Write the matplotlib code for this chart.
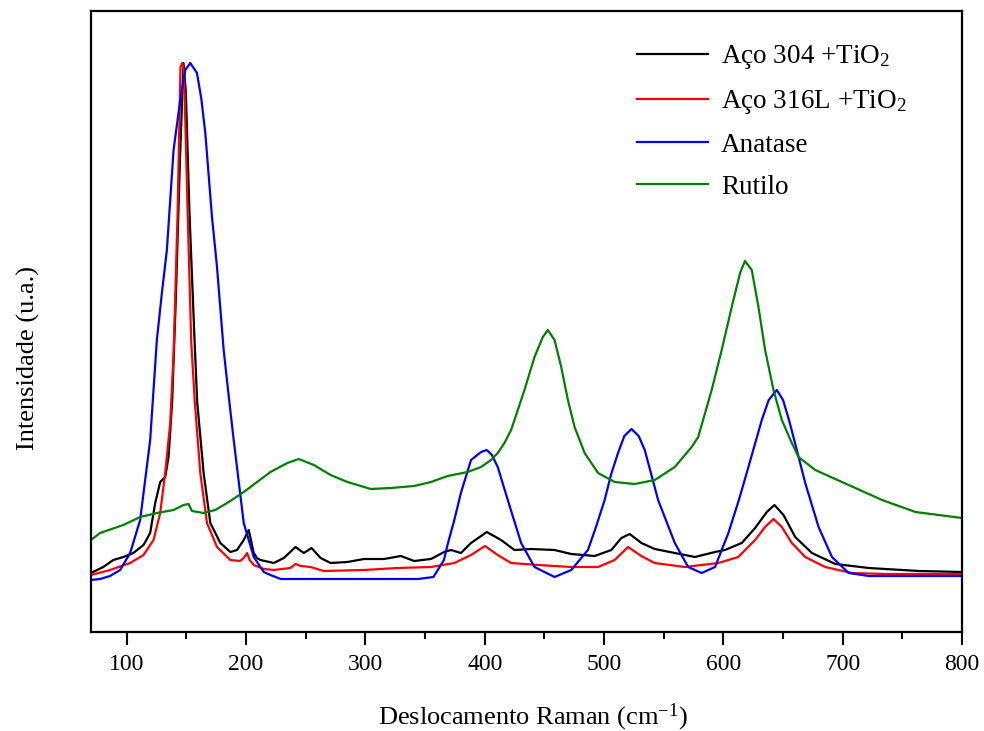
import matplotlib
matplotlib.use("Agg")
import matplotlib.pyplot as plt

plt.rcParams['font.family'] = ['Liberation Serif', 'DejaVu Serif']
plt.rcParams['mathtext.fontset'] = 'custom'
plt.rcParams['mathtext.rm'] = 'Liberation Serif'
plt.rcParams['mathtext.it'] = 'Liberation Serif:italic'

# ---- data (Raman shift cm-1, intensity a.u.) ----
aco304_x = [70, 80.3, 88.7, 97.1, 105.5, 114, 119.6, 123.8, 128, 132.2, 135, 138, 141, 144.5, 147.5,
            149.5, 152.5, 156.5, 159, 164.4, 170, 178.4, 186.8, 192.4, 198, 202.2, 206.4, 209.2, 212,
            223.2, 231.6, 241.4, 248.4, 254.9, 262.4, 270.8, 284.9, 298.8, 315.6, 329.7, 340.8, 354.9,
            366, 371.7, 380, 388.5, 401.7, 413.7, 424.9, 438.9, 458.5, 472.5, 492.1, 506.1, 514.5,
            521.5, 531.3, 542.5, 559.3, 576.1, 593, 601.3, 615.4, 626.6, 636.4, 642.8, 650.4, 660.2,
            674.2, 693.8, 721.8, 763.8, 800]
aco304_y = [59, 65, 72, 75, 79, 87, 99, 129, 150, 155, 175, 230, 330, 470, 569,
            540, 420, 300, 230, 159, 109, 89, 80, 82, 92, 102, 79, 74, 72,
            69, 74, 85, 79, 84, 74, 69, 70, 73, 73, 76, 71, 73,
            80, 82, 79, 89, 100, 92, 82, 83, 82, 78, 76, 82, 94,
            98, 89, 83, 79, 75, 80, 82, 89, 104, 120, 127, 117, 95,
            79, 68, 64, 61, 60]

aco316_x = [70, 86, 102.8, 114, 122.4, 128, 132.2, 136.4, 139.2, 142.5, 145, 146.5, 148, 151, 154, 157,
            161.6, 167.2, 175.6, 186.8, 195, 198, 200.8, 203, 206.4, 214.8, 223.2, 237, 241.4, 246,
            254, 265.2, 298.8, 326.9, 354.9, 374.5, 388.5, 400.3, 410.9, 422.1, 444.5, 472.5, 495,
            508.9, 520.1, 531.3, 542.5, 567.7, 595.8, 612.5, 626.6, 635, 642, 649, 657.4, 668.6,
            685.4, 707.8, 735.8, 800]
aco316_y = [57, 62, 69, 77, 92, 119, 159, 209, 278, 415, 565, 569, 560, 420, 290, 230,
            159, 109, 85, 72, 71, 74, 79, 72, 67, 63, 62, 64, 68, 66,
            65, 61, 62, 64, 65, 69, 77, 86, 77, 69, 67, 65, 65,
            72, 85, 76, 69, 65, 69, 75, 92, 105, 113, 105, 89, 75,
            65, 59, 58, 58]

anatase_x = [70, 77.6, 86, 94.4, 102.8, 111.2, 119.6, 125.2, 129.5, 133.6, 139.2, 144.8, 149, 153.2,
             158.8, 162.5, 165.8, 171.4, 175.6, 181.2, 185.5, 189.6, 198, 206.4, 214.8, 220.4, 229,
             344, 357, 365.8, 369, 374.5, 380, 388.5, 396.9, 401.7, 406, 410.9, 419.3, 430.5, 441.7,
             458.5, 472.5, 486.5, 493.5, 500.5, 506, 511.7, 517, 523, 529, 534.1, 539.5, 545.3,
             559.3, 570.5, 581.8, 593, 604.2, 613, 621, 632.2, 638, 644.8, 650, 655, 662, 668.6,
             679.8, 691, 705, 722, 800]
anatase_y = [52, 53, 56, 62, 79, 112, 192, 292, 340, 382, 482, 532, 562, 569,
             559, 533, 499, 415, 365, 282, 235, 192, 109, 75, 60, 57, 53,
             53, 55, 72, 88, 112, 139, 172, 180, 182, 177, 165, 132, 89, 65,
             55, 62, 82, 106, 132, 158, 179, 196, 203, 196, 182, 158, 132,
             89, 65, 59, 65, 99, 132, 165, 212, 232, 242, 232, 212, 180, 149,
             105, 75, 59, 56, 56]

rutilo_x = [70, 77.6, 97.1, 111.2, 125.2, 139.2, 147.6, 151.8, 154.6, 164.4, 174.2, 186.8, 198,
            209.2, 220.4, 234.5, 244.2, 256.8, 270.8, 284.9, 304.5, 321.3, 340.8, 354.9, 368.9,
            385.7, 396.9, 405.3, 410.9, 416.5, 422.1, 424.9, 430.5, 433.3, 441.7, 448.7, 452.9,
            458.5, 464.1, 469.7, 475.3, 483.7, 495, 508.9, 525.7, 542.5, 559.3, 573.4, 578.9,
            590.2, 598.6, 607, 614, 618.1, 623.8, 629.4, 635, 642, 649, 657, 663, 677, 705, 733,
            761, 800]
rutilo_y = [92, 99, 107, 115, 119, 122, 127, 128, 121, 119, 122, 131, 140,
            150, 160, 169, 173, 167, 157, 150, 143, 144, 146, 150, 156,
            160, 165, 172, 179, 189, 202, 212, 232, 242, 275, 295, 302,
            292, 265, 232, 205, 179, 159, 150, 148, 152, 165, 185, 195,
            242, 282, 325, 359, 371, 362, 325, 282, 242, 212, 190, 175, 162, 147, 132,
            120, 114]

labels = ['Aço 304 +TiO$_\\mathrm{2}$', 'Aço 316L +TiO$_\\mathrm{2}$', 'Anatase', 'Rutilo']
colors = ['black', '#ff0000', '#0000ff', '#008000']

xticks = [100, 200, 300, 400, 500, 600, 700, 800]

fig = plt.figure(figsize=(9.84, 7.31), dpi=100)
ax = fig.add_axes([91/984, 1-632/731, 871/984, 621/731])

series = [(aco304_x, aco304_y), (aco316_x, aco316_y), (anatase_x, anatase_y), (rutilo_x, rutilo_y)]
for (xs, ys), lab, c in zip(series, labels, colors):
    ax.plot(xs, ys, color=c, lw=1.6, label=lab)

ax.set_xlim(70, 800)
ax.set_ylim(0, 621)
ax.set_xticks(xticks)
ax.set_xticks(range(100, 801, 50), minor=True)
ax.set_yticks([])
ax.tick_params(axis='x', which='major', direction='out', length=9, width=1.5, labelsize=17, pad=7)
ax.tick_params(axis='x', which='minor', direction='out', length=5, width=1.5)
for s in ax.spines.values():
    s.set_linewidth(1.6)

ax.set_xlabel('Deslocamento Raman (cm$^{\\mathrm{-1}}$)', fontsize=19)
ax.set_ylabel('Intensidade (u.a.)', fontsize=19)
ax.xaxis.set_label_coords(0.507, -0.112)
ax.yaxis.set_label_coords(-0.058, 0.441)

leg = ax.legend(loc='upper left', bbox_to_anchor=(0.627, 0.948), frameon=False, fontsize=19.5,
                handlelength=2.6, handletextpad=0.5, labelspacing=0.62, borderpad=0,
                borderaxespad=0)

fig.savefig('out.png', dpi=100)
